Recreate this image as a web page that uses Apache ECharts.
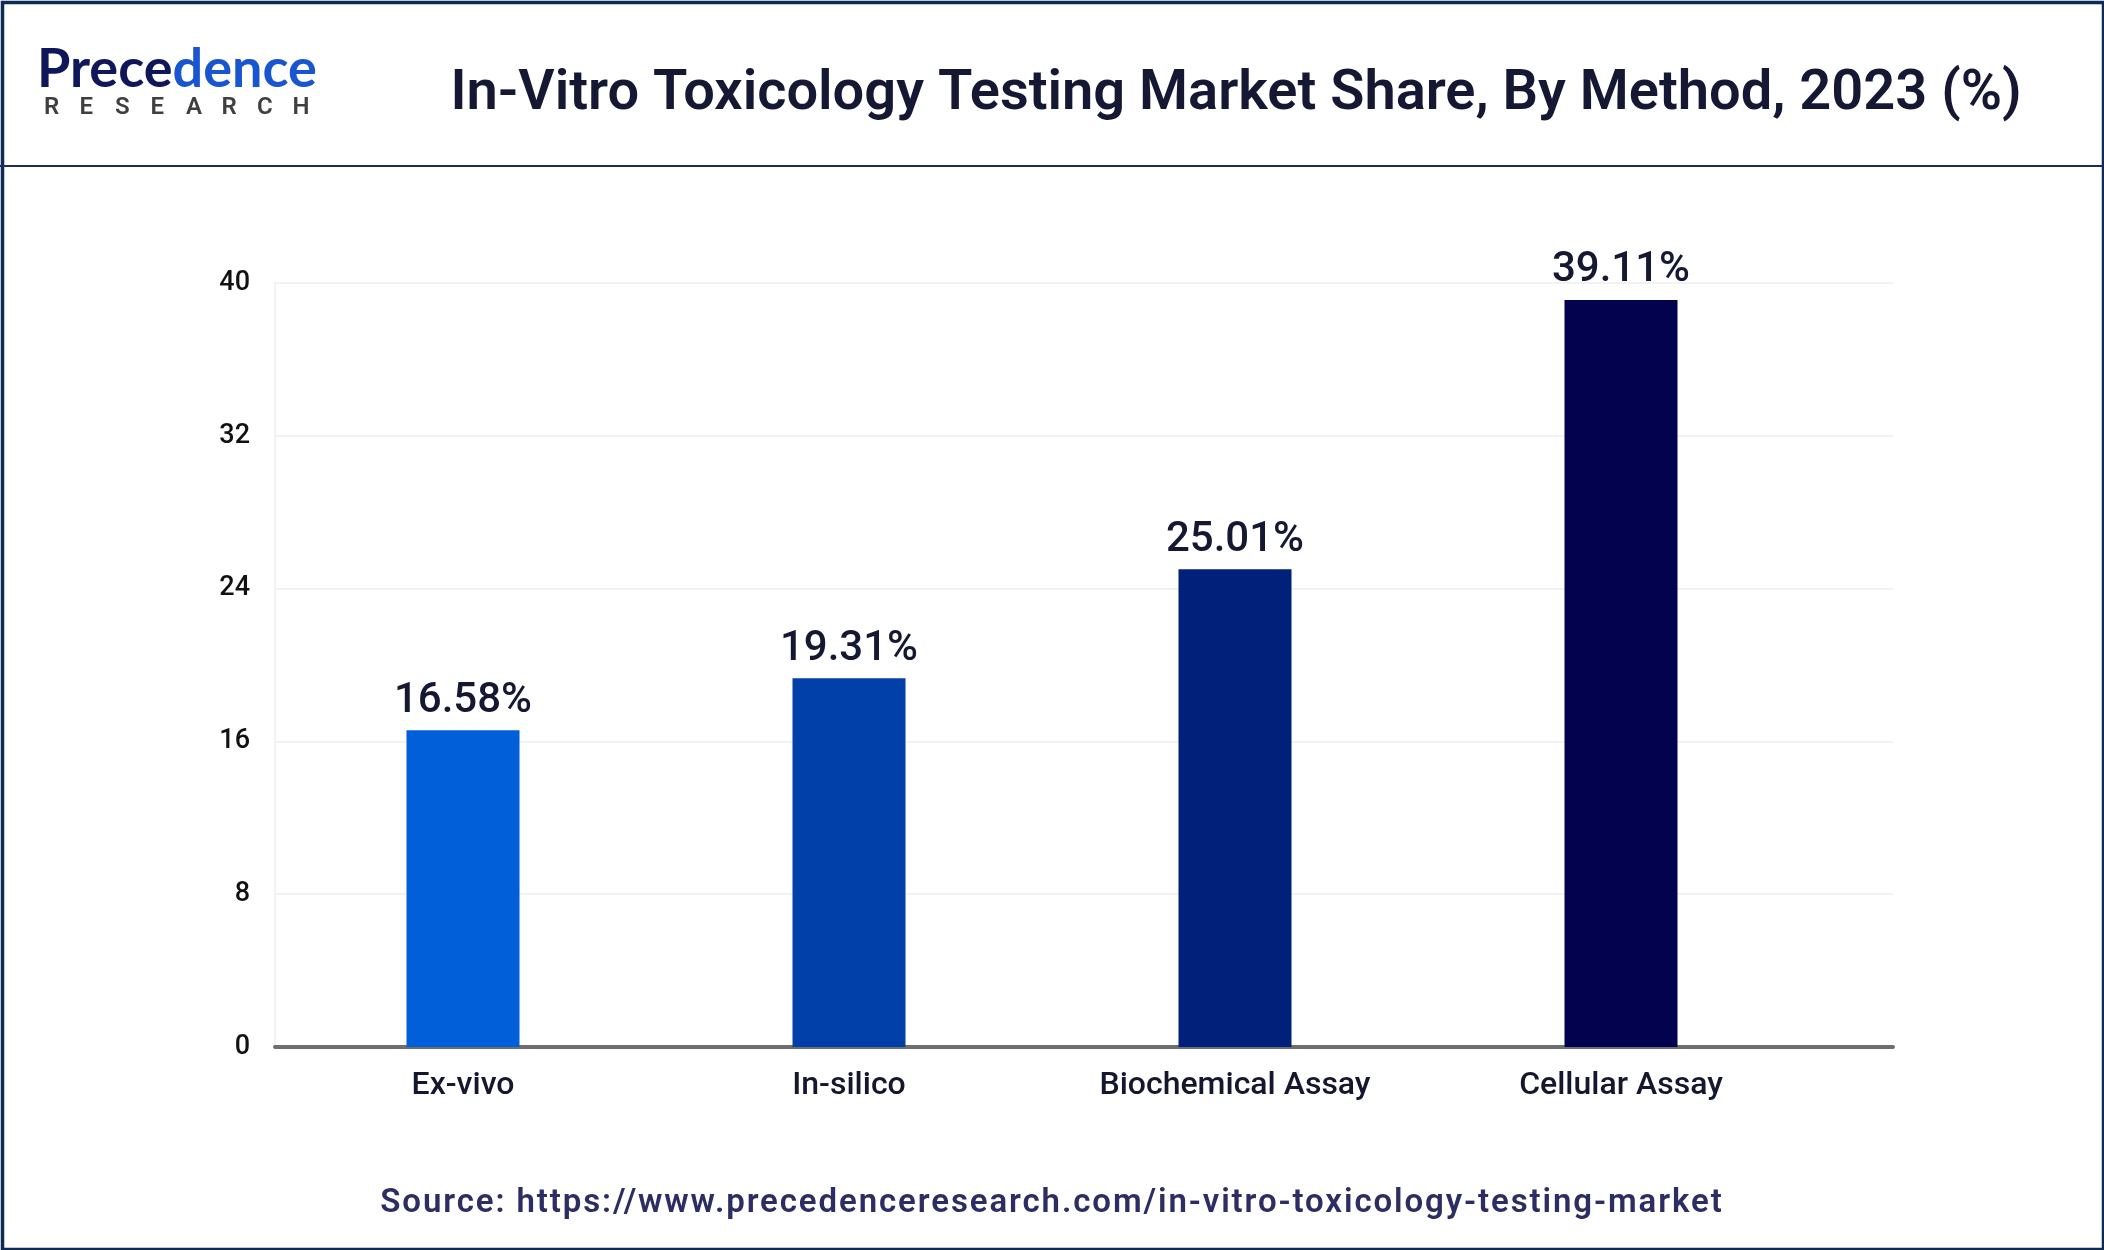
<!DOCTYPE html>
<html>
<head>
<meta charset="utf-8">
<script src="https://cdn.jsdelivr.net/npm/echarts@6/dist/echarts.min.js"></script>
<style>
html,body{margin:0;padding:0;background:#fff;}
#wrap{position:relative;width:2104px;height:1250px;}
#chart{width:2104px;height:1250px;}
#source{position:absolute;left:0;width:2104px;top:1180px;text-align:center;font:600 33px Roboto;letter-spacing:1.9px;color:#2b2d63;line-height:42px;white-space:nowrap;}
</style>
</head>
<body>
<div id="wrap">
<div id="chart"></div>
<div id="source"></div>
</div>
<script>
var categories = ['Ex-vivo', 'In-silico', 'Biochemical Assay', 'Cellular Assay'];
var shares = [16.58, 19.31, 25.01, 39.11];
var yTicks = [0, 8, 16, 24, 32, 40];
var barColors = ['#005fd9', '#0040a8', '#00207a', '#02024f'];
var titleText = 'In-Vitro Toxicology Testing Market Share, By Method, 2023 (%)';
var sourceText = 'Source: https://www.precedenceresearch.com/in-vitro-toxicology-testing-market';

document.getElementById('source').textContent = sourceText;

var chart = echarts.init(document.getElementById('chart'), null, {renderer: 'canvas'});

var researchLetters = 'RESEARCH'.split('');
var logoElems = researchLetters.map(function (ch, i) {
  return {
    type: 'text', left: 44 + i * 35.5, top: 96, z: 10,
    style: {text: ch, font: '600 24px Roboto', fill: '#3f3f3f'}
  };
});

var option = {
  backgroundColor: '#ffffff',
  animation: false,
  textStyle: {fontFamily: 'Roboto'},
  grid: [
    {left: 275, right: 211, top: 283, bottom: 203, containLabel: false},
    {left: 270, width: 1544, top: 283, bottom: 203, containLabel: false}
  ],
  xAxis: [
    {
      gridIndex: 0, type: 'value', min: 0, max: 1,
      axisLine: {show: true, lineStyle: {color: '#6e6e6e', width: 4}},
      axisTick: {show: false}, axisLabel: {show: false}, splitLine: {show: false}
    },
    {
      gridIndex: 1, type: 'category', data: categories,
      axisLine: {show: false}, axisTick: {show: false},
      axisLabel: {color: '#14172e', fontSize: 32, fontWeight: 500, margin: 23, fontFamily: 'Roboto'}
    }
  ],
  yAxis: [
    {
      gridIndex: 0, type: 'value', min: yTicks[0], max: yTicks[yTicks.length - 1], interval: yTicks[1] - yTicks[0],
      axisLine: {show: true, lineStyle: {color: '#f2f2f2', width: 2}},
      axisTick: {show: false},
      axisLabel: {color: '#111111', fontSize: 27, fontWeight: 500, margin: 25, fontFamily: 'Roboto'},
      splitLine: {show: true, lineStyle: {color: '#f2f2f2', width: 2}}
    },
    {
      gridIndex: 1, type: 'value', min: yTicks[0], max: yTicks[yTicks.length - 1],
      show: false, splitLine: {show: false}
    }
  ],
  series: [{
    type: 'bar', xAxisIndex: 1, yAxisIndex: 1,
    barWidth: 113,
    data: shares.map(function (v, i) { return {value: v, itemStyle: {color: barColors[i]}}; }),
    label: {
      show: true, position: 'top', distance: 8,
      formatter: function (p) { return p.value.toFixed(2) + '%'; },
      color: '#141833', fontSize: 42, fontWeight: 500, fontFamily: 'Roboto'
    },
    z: 3
  }],
  graphic: [
    {type: 'rect', left: 0, top: 0, z: 20, silent: true,
     shape: {x: 1.5, y: 1.5, width: 2101, height: 1247},
     style: {fill: 'none', stroke: '#0d2b55', lineWidth: 3.5}},
    {type: 'line', z: 20, silent: true,
     shape: {x1: 0, y1: 166, x2: 2104, y2: 166},
     style: {stroke: '#1d2a5c', lineWidth: 2}},
    {type: 'text', x: 1236, y: 95, z: 10,
     style: {text: titleText, font: '600 56px Roboto', fill: '#141833', textAlign: 'center', textVerticalAlign: 'middle'}},
    {type: 'text', x: 37, y: 97, z: 10,
     style: {text: '{a|Prece}{b|dence}', textAlign: 'left', textVerticalAlign: 'bottom',
       rich: {
         a: {font: '700 54px Lato', fill: '#0f175a', color: '#0f175a'},
         b: {font: '700 54px Lato', fill: '#1a55d0', color: '#1a55d0'}
       }}}
  ].concat(logoElems)
};
chart.setOption(option);
</script>
</body>
</html>
